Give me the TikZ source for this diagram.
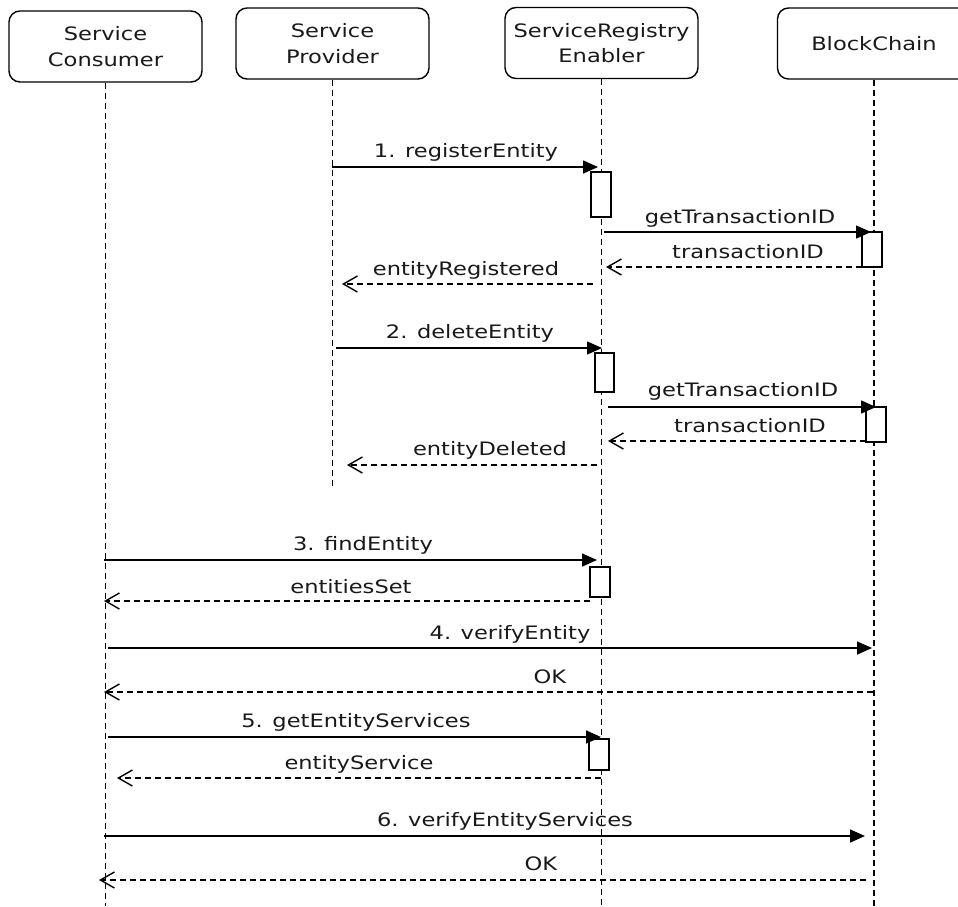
\documentclass[tikz,border=0pt]{standalone}
\usepackage{fontspec}
\setmainfont[FakeStretch=1.22]{DejaVu Sans}
\usetikzlibrary{arrows.meta}
\begin{document}
\begin{tikzpicture}[x=1pt,y=-1pt,
  every node/.style={font=\fontsize{18.5}{25.5}\selectfont, text=black!90},
  actor/.style={draw, rounded corners=11pt, minimum width=193pt, minimum height=71pt, align=center, line width=1.4pt, inner sep=0pt},
  life/.style={line width=1.5pt, dash pattern=on 6pt off 4pt},
  msg/.style={line width=1.6pt, -{Triangle[length=15pt,width=13pt]}},
  ret/.style={line width=1.4pt, dash pattern=on 6pt off 4pt, -{Straight Barb[length=14pt,width=16pt,line width=1.4pt]}},
  actbox/.style={draw, fill=white, line width=1.5pt, inner sep=0pt, minimum width=20pt},
  lbl/.style={anchor=base, inner sep=0pt}]
\useasboundingbox (0,0) rectangle (958,906);
% actors
\node[actor] (cons) at (105.5,46.5) {Service\\Consumer};
\node[actor] (prov) at (332.5,43.5) {Service\\Provider};
\node[actor] (reg) at (601.5,43) {ServiceRegistry\\Enabler};
\node[actor] (bc) at (874,43.5) {BlockChain};
% lifeline ends
\coordinate (consEnd) at (105.5,906);
\coordinate (provEnd) at (332.5,487);
\coordinate (regEnd) at (601.5,906);
\coordinate (bcEnd) at (874,906);
\draw[life] (cons.south) -- (consEnd);
\draw[life] (prov.south) -- (provEnd);
\draw[life] (reg.south) -- (regEnd);
\draw[life] (bc.south) -- (bcEnd);
% activation boxes
\node[actbox, minimum height=45pt] (A1) at (601,194.5) {};
\node[actbox, minimum height=35pt] (B1) at (872,249.5) {};
\node[actbox, minimum height=39pt, minimum width=19pt] (A2) at (604.5,372.5) {};
\node[actbox, minimum height=35pt] (B2) at (876,424.5) {};
\node[actbox, minimum height=30pt] (A3) at (600,582) {};
\node[actbox, minimum height=31pt] (A4) at (599,754.5) {};
% message end points
\coordinate (m1s) at (332,167);  \coordinate (m1e) at (598,167);
\coordinate (m1as) at (604,232); \coordinate (m1ae) at (871,232);
\coordinate (r1as) at (862,267); \coordinate (r1ae) at (606,267);
\coordinate (r1s) at (593,284);  \coordinate (r1e) at (342,284);
\coordinate (m2s) at (336,348);  \coordinate (m2e) at (602,348);
\coordinate (m2as) at (608,407); \coordinate (m2ae) at (876,407);
\coordinate (r2as) at (866,441); \coordinate (r2ae) at (608,441);
\coordinate (r2s) at (597,465);  \coordinate (r2e) at (347,465);
\coordinate (m3s) at (104,560);  \coordinate (m3e) at (597,560);
\coordinate (r3s) at (590,601);  \coordinate (r3e) at (104,601);
\coordinate (m4s) at (108,648);  \coordinate (m4e) at (872,648);
\coordinate (r4s) at (873,692);  \coordinate (r4e) at (104,692);
\coordinate (m5s) at (108,737);  \coordinate (m5e) at (601,737);
\coordinate (r5s) at (601,778);  \coordinate (r5e) at (117,778);
\coordinate (m6s) at (104,836);  \coordinate (m6e) at (865,836);
\coordinate (r6s) at (866,880);  \coordinate (r6e) at (99,880);
% messages
\draw[msg] (m1s) -- (m1e);
\draw[msg] (m1as) -- (m1ae);
\draw[ret] (r1as) -- (r1ae);
\draw[ret] (r1s) -- (r1e);
\draw[msg] (m2s) -- (m2e);
\draw[msg] (m2as) -- (m2ae);
\draw[ret] (r2as) -- (r2ae);
\draw[ret] (r2s) -- (r2e);
\draw[msg] (m3s) -- (m3e);
\draw[ret] (r3s) -- (r3e);
\draw[msg] (m4s) -- (m4e);
\draw[ret] (r4s) -- (r4e);
\draw[msg] (m5s) -- (m5e);
\draw[ret] (r5s) -- (r5e);
\draw[msg] (m6s) -- (m6e);
\draw[ret] (r6s) -- (r6e);
% labels
\node[lbl] (l1) at (466,157) {1. registerEntity};
\node[lbl] (l1a) at (740,223) {getTransactionID};
\node[lbl] (l1b) at (748,258) {transactionID};
\node[lbl] (l1c) at (466,275) {entityRegistered};
\node[lbl] (l2) at (470,338) {2. deleteEntity};
\node[lbl] (l2a) at (743,396) {getTransactionID};
\node[lbl] (l2b) at (750,432) {transactionID};
\node[lbl] (l2c) at (490,455) {entityDeleted};
\node[lbl] (l3) at (363,550) {3. findEntity};
\node[lbl] (l3a) at (351,593) {entitiesSet};
\node[lbl] (l4) at (510,639) {4. verifyEntity};
\node[lbl] (l4a) at (550,683) {OK};
\node[lbl] (l5) at (356,727) {5. getEntityServices};
\node[lbl] (l5a) at (359,769) {entityService};
\node[lbl] (l6) at (505,826) {6. verifyEntityServices};
\node[lbl] (l6a) at (541,870) {OK};
\end{tikzpicture}
\end{document}
